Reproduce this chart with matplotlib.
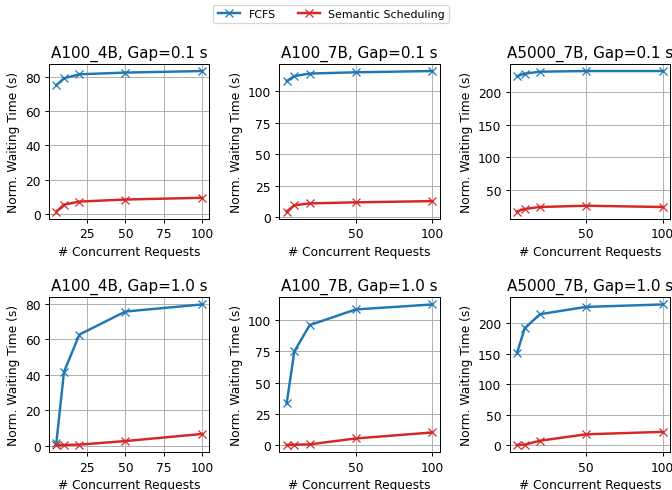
import matplotlib
matplotlib.use("Agg")
import matplotlib.pyplot as plt

# Number of concurrent requests
concurrent = [5, 10, 20, 50, 100]

titles = [
    "A100_4B, Gap=0.1 s", "A100_7B, Gap=0.1 s", "A5000_7B, Gap=0.1 s",
    "A100_4B, Gap=1.0 s", "A100_7B, Gap=1.0 s", "A5000_7B, Gap=1.0 s",
]

# Normalized waiting time (s), one list per panel
fcfs_a100_4b_01 = [75.0, 79.0, 81.3, 82.3, 83.2]
sem_a100_4b_01 = [1.5, 5.5, 7.3, 8.5, 9.5]
fcfs_a100_7b_01 = [108.0, 112.0, 114.0, 115.0, 116.0]
sem_a100_7b_01 = [4.5, 9.5, 11.0, 11.8, 12.8]
fcfs_a5000_7b_01 = [225.0, 229.0, 232.0, 233.0, 233.0]
sem_a5000_7b_01 = [16.5, 20.5, 23.5, 25.5, 23.5]

fcfs_a100_4b_10 = [1.5, 41.5, 62.5, 75.5, 79.5]
sem_a100_4b_10 = [0.3, 0.3, 0.5, 2.5, 6.5]
fcfs_a100_7b_10 = [33.5, 75.0, 96.0, 108.5, 112.5]
sem_a100_7b_10 = [0.3, 0.5, 0.8, 5.5, 10.3]
fcfs_a5000_7b_10 = [151.0, 192.0, 215.0, 227.0, 231.0]
sem_a5000_7b_10 = [0.5, 1.0, 7.5, 18.0, 22.0]

fcfs_all = [fcfs_a100_4b_01, fcfs_a100_7b_01, fcfs_a5000_7b_01,
            fcfs_a100_4b_10, fcfs_a100_7b_10, fcfs_a5000_7b_10]
sem_all = [sem_a100_4b_01, sem_a100_7b_01, sem_a5000_7b_01,
           sem_a100_4b_10, sem_a100_7b_10, sem_a5000_7b_10]

x_ticks = [[25, 50, 75, 100], [50, 100], [50, 100],
           [25, 50, 75, 100], [50, 100], [50, 100]]

DPI = 88
fig, axes = plt.subplots(2, 3, figsize=(672 / DPI, 491 / DPI), dpi=DPI)
fig.subplots_adjust(left=0.073, right=0.997, top=0.8676, bottom=0.0774,
                    wspace=0.437, hspace=0.51)

for i, ax in enumerate(axes.flat):
    ax.plot(concurrent, fcfs_all[i], color="#1f77b4", marker="x", lw=2,
            label="FCFS")
    ax.plot(concurrent, sem_all[i], color="#d62728", marker="x", lw=2,
            label="Semantic Scheduling")
    ax.set_title(titles[i], fontsize=12.4)
    ax.set_xticks(x_ticks[i])
    ax.set_ylabel("Norm. Waiting Time (s)", fontsize=10)
    ax.set_xlabel("# Concurrent Requests", fontsize=10)
    ax.tick_params(labelsize=10)
    ax.grid(True)

handles, labels = axes[0, 0].get_legend_handles_labels()
fig.legend(handles, labels, loc="upper center", ncol=2, fontsize=9,
           bbox_to_anchor=(0.493, 1.0))

fig.savefig("out.png", dpi=DPI)
